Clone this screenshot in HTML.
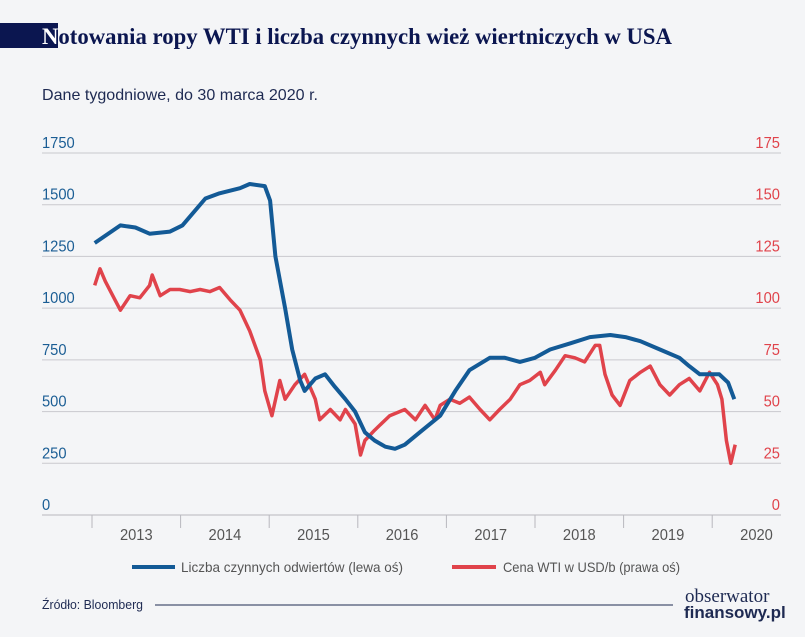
<!DOCTYPE html>
<html><head><meta charset="utf-8"><style>
body{margin:0;background:#f4f5f7;width:805px;height:632px;overflow:hidden;font-family:"Liberation Sans",sans-serif}
</style></head><body>
<svg width="805" height="632" viewBox="0 0 805 632">
<rect x="0" y="0" width="805" height="632" fill="#f4f5f7"/>
<rect x="0" y="23" width="58" height="25" fill="#0b1650"/>
<text x="42" y="44" font-family="Liberation Serif,serif" font-size="23" font-weight="bold" fill="#0b1650" textLength="630" lengthAdjust="spacingAndGlyphs"><tspan fill="#fff">N</tspan>otowania ropy WTI i liczba czynnych wież wiertniczych w USA</text>
<text x="42" y="100" font-size="16" fill="#1e2a52" textLength="276" lengthAdjust="spacingAndGlyphs">Dane tygodniowe, do 30 marca 2020 r.</text>
<g id="grid"></g>
<g id="yl"></g>
<g id="yr"></g>
<g id="xa"></g>
<path id="red" fill="none" stroke="#e0434b" stroke-width="3.5" stroke-linejoin="round"/>
<path id="blue" fill="none" stroke="#135a96" stroke-width="4" stroke-linejoin="round"/>
<g>
<line x1="132" y1="567" x2="175" y2="567" stroke="#135a96" stroke-width="4"/>
<text x="181" y="572" font-size="14" fill="#555" textLength="222" lengthAdjust="spacingAndGlyphs">Liczba czynnych odwiertów (lewa oś)</text>
<line x1="452" y1="567" x2="496" y2="567" stroke="#e0434b" stroke-width="4"/>
<text x="503" y="572" font-size="14" fill="#555" textLength="177" lengthAdjust="spacingAndGlyphs">Cena WTI w USD/b (prawa oś)</text>
</g>
<text x="42" y="609" font-size="13" fill="#1e2a52" textLength="101" lengthAdjust="spacingAndGlyphs">Źródło: Bloomberg</text>
<line x1="155" y1="605" x2="673" y2="605" stroke="#1e2a52" stroke-width="1"/>
<text x="685" y="602" font-family="Liberation Serif,serif" font-size="19" fill="#1e2a52">obserwator</text>
<text x="684" y="618" font-size="17" font-weight="bold" fill="#1e2a52">finansowy.pl</text>
</svg>
<script>
const leftTicks=[0,250,500,750,1000,1250,1500,1750];
const rightTicks=[0,25,50,75,100,125,150,175];
const years=[2013,2014,2015,2016,2017,2018,2019,2020];
const rigDates=[2013.03,2013.32,2013.49,2013.65,2013.88,2014.02,2014.28,2014.44,2014.67,2014.78,2014.95,2015.01,2015.07,2015.18,2015.26,2015.35,2015.40,2015.52,2015.63,2015.74,2015.86,2015.97,2016.08,2016.19,2016.31,2016.42,2016.53,2016.70,2016.93,2017.10,2017.26,2017.49,2017.66,2017.83,2018.00,2018.17,2018.40,2018.62,2018.85,2019.02,2019.19,2019.41,2019.63,2019.74,2019.86,2020.08,2020.18,2020.25];
const rigValues=[1315,1400,1390,1360,1370,1400,1530,1555,1580,1600,1590,1520,1250,1000,800,650,600,660,680,620,560,500,400,360,330,320,340,400,480,600,700,760,760,740,760,800,830,860,870,860,840,800,760,720,680,680,640,560];
const wtiDates=[2013.03,2013.09,2013.15,2013.26,2013.32,2013.43,2013.54,2013.65,2013.68,2013.77,2013.88,2013.99,2014.11,2014.22,2014.33,2014.44,2014.56,2014.67,2014.78,2014.90,2014.95,2015.03,2015.12,2015.18,2015.29,2015.40,2015.52,2015.57,2015.69,2015.80,2015.86,2015.97,2016.03,2016.08,2016.19,2016.36,2016.53,2016.65,2016.76,2016.87,2016.93,2017.04,2017.15,2017.26,2017.38,2017.49,2017.60,2017.72,2017.83,2017.94,2018.06,2018.11,2018.23,2018.34,2018.45,2018.56,2018.68,2018.73,2018.79,2018.87,2018.96,2019.07,2019.19,2019.30,2019.41,2019.52,2019.63,2019.74,2019.86,2019.97,2020.06,2020.11,2020.16,2020.21,2020.26];
const wtiValues=[111,119,113,104,99,106,105,111,116,106,109,109,108,109,108,110,104,99,89,75,60,48,65,56,63,68,56,46,51,46,51,44,29,36,41,48,51,46,53,46,53,56,54,57,51,46,51,56,63,65,69,63,70,77,76,74,82,82,68,58,53,65,69,72,63,58,63,66,60,69,63,56,36,25,34];
const X0=92,PX=88.6,Y0=515,YH=362;
const x=d=>X0+(d-2013)*PX;
const yl=v=>Y0-v/1750*YH;
const yr=v=>Y0-v/175*YH;
const NS='http://www.w3.org/2000/svg';
function mk(p,t,a){const e=document.createElementNS(NS,t);for(const k in a)e.setAttribute(k,a[k]);p.appendChild(e);return e;}
const g=document.getElementById('grid'),gl=document.getElementById('yl'),gr=document.getElementById('yr'),xa=document.getElementById('xa');
leftTicks.forEach((v,i)=>{
 const yy=yl(v);
 const ln=mk(g,'line',{x1:42,x2:781,y1:yy,y2:yy,stroke:i==0?'#b8b8be':'#c9c9ce','stroke-width':1});
 
 
 const t=mk(gl,'text',{x:42,y:yy-5,'font-size':16,fill:'#1a5d94',transform:'translate(42 0) scale(0.92 1) translate(-42 0)'});t.textContent=v;
 
 
 const t2=mk(gr,'text',{x:780,y:yy-5,'font-size':16,fill:'#e0434b','text-anchor':'end',transform:'translate(780 0) scale(0.92 1) translate(-780 0)'});t2.textContent=rightTicks[i];
 
 
});
years.forEach(yv=>{
 const tk=mk(xa,'line',{x1:x(yv),x2:x(yv),y1:Y0,y2:Y0+13,stroke:'#b8b8be'});
 
 
 const cx=yv==2020?Math.min(x(yv+0.5),759):x(yv+0.5);
 const t=mk(xa,'text',{x:cx,y:Y0+25,'font-size':16,fill:'#555','text-anchor':'middle',transform:'translate('+cx+' 0) scale(0.92 1) translate('+(-cx)+' 0)'});t.textContent=yv;
 
 
});
document.getElementById('blue').setAttribute('d',rigDates.map((d,i)=>(i?'L':'M')+x(d).toFixed(1)+' '+yl(rigValues[i]).toFixed(1)).join(''));
document.getElementById('red').setAttribute('d',wtiDates.map((d,i)=>(i?'L':'M')+x(d).toFixed(1)+' '+yr(wtiValues[i]).toFixed(1)).join(''));
</script>
</body></html>
